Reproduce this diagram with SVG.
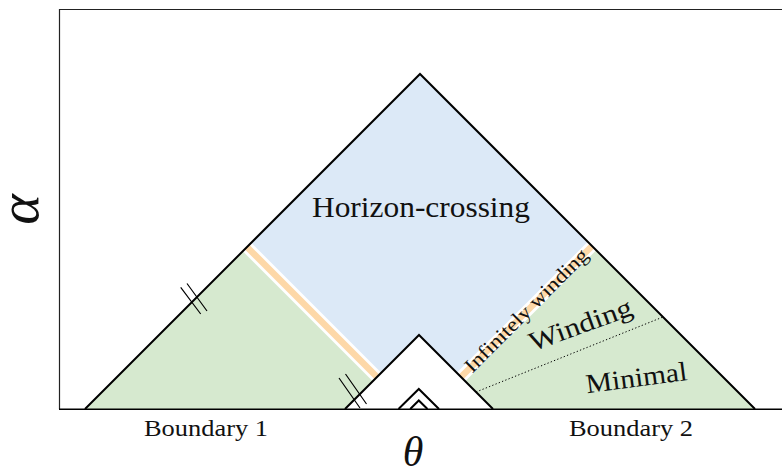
<svg xmlns="http://www.w3.org/2000/svg" width="782" height="470" viewBox="0 0 782 470">
<style>
.lbl{font-family:"Liberation Serif","DejaVu Serif",serif;fill:#111}
.edge{fill:none;stroke:#000;stroke-width:2;stroke-linejoin:miter}
.frame{fill:none;stroke:#222;stroke-width:1.2}
.hash{stroke:#000;stroke-width:1.2;fill:none}
.sw{stroke:#fff;stroke-width:12;fill:none}
.so{stroke:#fdd8a8;stroke-width:6.5;fill:none}
</style>
<rect width="782" height="470" fill="#fff"/>
<g id="green-region"><polygon points="85,409 420,74 755,409" fill="#d6e9cf"/></g>
<g id="horizon-crossing"><polygon points="420,74 247,247 377,377 419,335 461,377 592,246" fill="#dce9f7"/>
<text class="lbl" x="421" y="217" font-size="30" text-anchor="middle" textLength="218" lengthAdjust="spacingAndGlyphs">Horizon-crossing</text></g>
<g id="stripes">
<line class="sw" x1="247" y1="247" x2="377" y2="377"/>
<line class="so" x1="247" y1="247" x2="377" y2="377"/>
<line class="sw" x1="592" y1="246" x2="461" y2="377"/>
<line class="so" x1="592" y1="246" x2="461" y2="377"/>
</g>
<g id="inner-triangles">
<polygon points="345,409 419,335 493,409" fill="#fff"/>
<path class="edge" d="M345,409 L419,335 L493,409"/>
<path class="edge" d="M398.5,409 L418.8,389 L439,409"/>
<path class="edge" d="M410.2,409 L418.8,400.5 L427.5,409"/>
</g>
<g id="outer-triangle"><path class="edge" d="M85,409 L420,74 L755,409"/></g>
<g id="connectors">
<line x1="476" y1="392" x2="663" y2="317" stroke="#000" stroke-width="1" stroke-dasharray="1.3 2.2"/>
<path class="hash" d="M180.7,287.3 L200.7,314 M187,283.5 L207,311"/>
<path class="hash" d="M339,378 L360,408 M345.5,374 L366.5,404"/>
</g>
<g id="labels">
<text class="lbl" font-size="20" text-anchor="middle" textLength="166" lengthAdjust="spacingAndGlyphs" transform="translate(531,315) rotate(-45)">Infinitely winding</text>
<text class="lbl" font-size="27" text-anchor="middle" textLength="108" lengthAdjust="spacingAndGlyphs" transform="translate(583.5,333) rotate(-20)">Winding</text>
<text class="lbl" font-size="27" text-anchor="middle" textLength="102" lengthAdjust="spacingAndGlyphs" transform="translate(637.5,386.5) rotate(-7.5)">Minimal</text>
<text class="lbl" x="206" y="436" font-size="23.5" text-anchor="middle" textLength="124" lengthAdjust="spacingAndGlyphs">Boundary 1</text>
<text class="lbl" x="631" y="436" font-size="23.5" text-anchor="middle" textLength="124" lengthAdjust="spacingAndGlyphs">Boundary 2</text>
<text class="lbl" x="413" y="466" font-size="42" font-style="italic" text-anchor="middle">θ</text>
<text class="lbl" font-size="58" font-style="italic" text-anchor="middle" transform="translate(38,209.5) rotate(-90)">α</text>
</g>
<g id="frame">
<path class="frame" d="M59.5,409 L59.5,9.5 L782,9.5"/>
<line x1="59" y1="409.3" x2="782" y2="409.3" stroke="#000" stroke-width="1.4"/>
</g>
</svg>
